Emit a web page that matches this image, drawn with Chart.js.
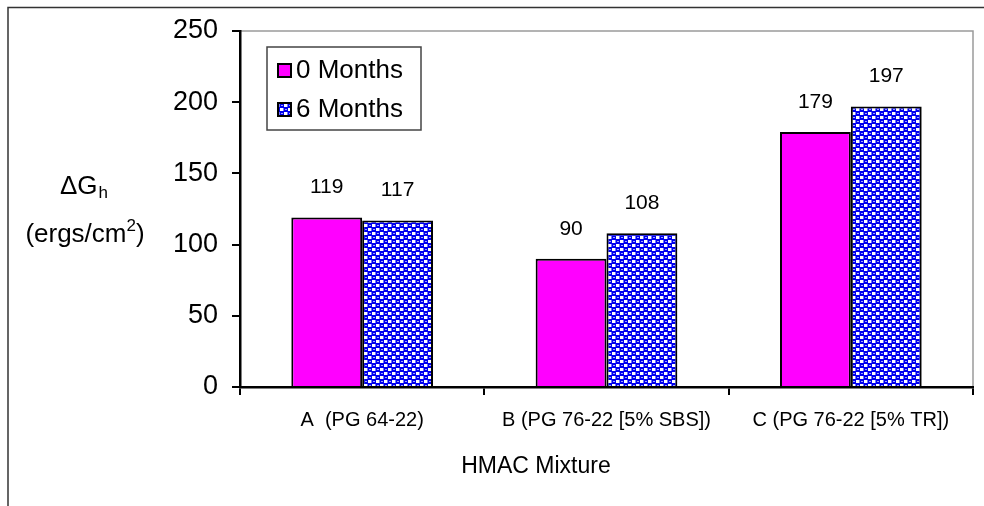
<!DOCTYPE html>
<html>
<head>
<meta charset="utf-8">
<script src="https://cdn.jsdelivr.net/npm/chart.js@4"></script>
<style>
  html, body { margin: 0; padding: 0; background: #fff; }
  #wrap { width: 984px; height: 506px; }
</style>
</head>
<body>
<div id="wrap"><canvas id="chart" width="984" height="506"></canvas></div>
<script>
const categories = ["A  (PG 64-22)", "B (PG 76-22 [5% SBS])", "C (PG 76-22 [5% TR])"];
const months0 = [119, 90, 179];
const months6 = [117, 108, 197];
const seriesNames = ["0 Months", "6 Months"];
const yTicks = [0, 50, 100, 150, 200, 250];
const xTitle = "HMAC Mixture";

const FONT = "'Liberation Sans', Arial, sans-serif";

// blue ball / white square pattern for the 6 month bars
function makePattern() {
  const c = document.createElement("canvas");
  c.width = 8;
  c.height = 8;
  const g = c.getContext("2d");
  g.fillStyle = "#0000ee";
  g.fillRect(0, 0, 8, 8);
  // white squares
  g.fillStyle = "#ffffff";
  g.fillRect(4, 0, 3, 3);
  g.fillRect(0, 4, 3, 3);
  // soft edge round the squares
  g.fillStyle = "#7070ff";
  g.fillRect(7, 0, 1, 3);
  g.fillRect(3, 4, 1, 3);
  // highlights on balls
  g.fillStyle = "#a0a0ff";
  g.fillRect(1, 1, 2, 1);
  g.fillRect(5, 5, 2, 1);
  return g.createPattern(c, "repeat");
}
const bluePattern = makePattern();

const ctx = document.getElementById("chart");

// outer frame + plot area frame
const framePlugin = {
  id: "frame",
  beforeDraw(chart) {
    const c = chart.ctx;
    const a = chart.chartArea;
    c.save();
    c.strokeStyle = "#333";
    c.lineWidth = 1.5;
    c.beginPath();
    c.moveTo(8, 506);
    c.lineTo(8, 7.5);
    c.lineTo(984, 7.5);
    c.stroke();
    c.strokeStyle = "#9a9a9a";
    c.lineWidth = 1.5;
    c.beginPath();
    c.moveTo(a.left, a.top);
    c.lineTo(a.right, a.top);
    c.lineTo(a.right, a.bottom);
    c.stroke();
    c.restore();
  }
};

// y title with sub/superscript, x title, value labels, legend box
const extrasPlugin = {
  id: "extras",
  afterDraw(chart) {
    const c = chart.ctx;
    c.save();
    c.fillStyle = "#000";
    c.textBaseline = "middle";
    c.textAlign = "left";

    // y axis title
    const dg = "\u0394G";
    c.font = "26px " + FONT;
    const w1 = c.measureText(dg).width;
    c.font = "17px " + FONT;
    const w2 = c.measureText("h").width;
    let x0 = 84 - (w1 + w2 + 1) / 2;
    c.font = "26px " + FONT;
    c.fillText(dg, x0, 187);
    c.font = "17px " + FONT;
    c.fillText("h", x0 + w1 + 1, 193);

    c.font = "26px " + FONT;
    const t1 = "(ergs/cm";
    const wa = c.measureText(t1).width;
    const wb = c.measureText(")").width;
    c.font = "17px " + FONT;
    const ws = c.measureText("2").width;
    x0 = 85 - (wa + ws + wb) / 2;
    c.font = "26px " + FONT;
    c.fillText(t1, x0, 235);
    c.fillText(")", x0 + wa + ws, 235);
    c.font = "17px " + FONT;
    c.fillText("2", x0 + wa, 226);

    // x axis title
    c.font = "23px " + FONT;
    c.textAlign = "center";
    c.fillText(xTitle, 536, 467);

    // value labels
    c.font = "21px " + FONT;
    chart.data.datasets.forEach((ds, i) => {
      chart.getDatasetMeta(i).data.forEach((bar, j) => {
        c.fillText(String(ds.data[j]), bar.x, bar.y - 30);
      });
    });

    // legend
    const lx = 267, ly = 47, lw = 154, lh = 83;
    c.fillStyle = "#fff";
    c.fillRect(lx, ly, lw, lh);
    c.strokeStyle = "#444";
    c.lineWidth = 1.5;
    c.strokeRect(lx, ly, lw, lh);
    c.font = "26px " + FONT;
    c.textAlign = "left";
    chart.data.datasets.forEach((ds, i) => {
      const cy = ly + 24 + i * 39;
      c.fillStyle = ds.backgroundColor;
      c.fillRect(278, cy - 7, 13, 13);
      c.strokeStyle = "#000";
      c.lineWidth = 2;
      c.strokeRect(278, cy - 7, 13, 13);
      c.fillStyle = "#000";
      c.fillText(ds.label, 296, cy);
    });
    c.restore();
  }
};

new Chart(ctx, {
  type: "bar",
  data: {
    labels: categories,
    datasets: [
      {
        label: seriesNames[0],
        data: months0,
        backgroundColor: "#ff00ff",
        borderColor: "#000",
        borderWidth: 2,
        borderSkipped: "bottom",
        categoryPercentage: 0.58,
        barPercentage: 1.0
      },
      {
        label: seriesNames[1],
        data: months6,
        backgroundColor: bluePattern,
        borderColor: "#000",
        borderWidth: 2,
        borderSkipped: "bottom",
        categoryPercentage: 0.58,
        barPercentage: 1.0
      }
    ]
  },
  options: {
    responsive: false,
    animation: false,
    layout: { padding: { top: 31, right: 11, left: 0, bottom: 22 } },
    plugins: {
      legend: { display: false },
      tooltip: { enabled: false }
    },
    scales: {
      x: {
        afterFit(scale) { scale.height = 97; },
        grid: {
          drawOnChartArea: false,
          color: "#000",
          lineWidth: 2,
          tickLength: 8,
          tickWidth: 2
        },
        border: { color: "#000", width: 2.5 },
        ticks: {
          color: "#000",
          font: { family: FONT, size: 20 },
          padding: 13,
          maxRotation: 0
        }
      },
      y: {
        min: 0,
        max: 250,
        afterFit(scale) { scale.width = 240; },
        afterBuildTicks(scale) {
          scale.ticks = yTicks.map(v => ({ value: v }));
        },
        grid: {
          drawOnChartArea: false,
          color: "#000",
          lineWidth: 2,
          tickLength: 8,
          tickWidth: 2
        },
        border: { color: "#000", width: 2.5 },
        ticks: {
          color: "#000",
          font: { family: FONT, size: 27 },
          padding: 14
        }
      }
    }
  },
  plugins: [framePlugin, extrasPlugin]
});
</script>
</body>
</html>
